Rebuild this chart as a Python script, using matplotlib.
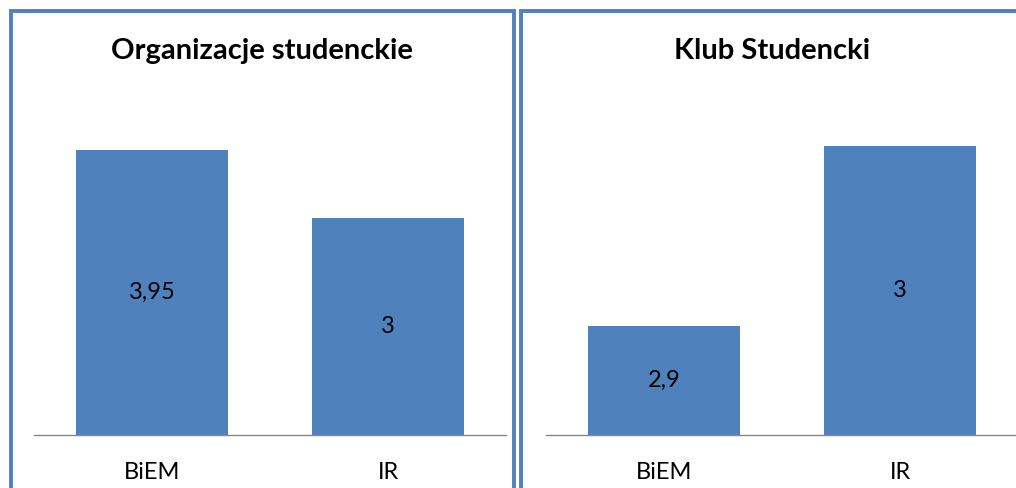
import matplotlib
matplotlib.use("Agg")
import matplotlib.pyplot as plt
from matplotlib.patches import Rectangle

categories = ["BiEM", "IR"]
titles = ["Organizacje studenckie", "Klub Studencki"]
values_org = [3.95, 3.0]
values_klub = [2.9, 3.0]
labels_org = ["3,95", "3"]
labels_klub = ["2,9", "3"]
ylims = [(0, 5.0), (2.84, 3.04)]

W, H = 1016, 488
BLUE = "#4F81BD"
FONT = "Lato"

fig = plt.figure(figsize=(W / 100, H / 100), dpi=100)


def fx(px):
    return px / W


def fy(py):
    return 1 - py / H


# panel borders
for (x0, x1) in [(11, 514), (521, 1040)]:
    r = Rectangle((fx(x0), fy(520)), fx(x1) - fx(x0), fy(11) - fy(520),
                  transform=fig.transFigure, fill=False, edgecolor=BLUE,
                  linewidth=2.8, clip_on=False)
    fig.add_artist(r)

panels = [
    (34, titles[0], values_org, labels_org, ylims[0], 262),
    (546, titles[1], values_klub, labels_klub, ylims[1], 772),
]

for (left_px, title, vals, labs, yl, tcx) in panels:
    ax = fig.add_axes([fx(left_px), fy(434.5), fx(472), (434.5 - 74) / H])
    x = list(range(len(categories)))
    bars = ax.bar(x, vals, width=0.644, color=BLUE, bottom=0)
    ax.set_xlim(-0.5, 1.5)
    ax.set_ylim(*yl)
    for s in ["top", "right", "left"]:
        ax.spines[s].set_visible(False)
    ax.spines["bottom"].set_color("#868686")
    ax.spines["bottom"].set_linewidth(1.0)
    ax.set_yticks([])
    ax.set_xticks(x)
    ax.set_xticklabels(categories, fontsize=17, family=FONT)
    ax.tick_params(axis="x", length=0, pad=20)
    ax.patch.set_alpha(0)
    for b, v, lab in zip(bars, vals, labs):
        ymid = (yl[0] + v) / 2
        ax.text(b.get_x() + b.get_width() / 2, ymid, lab, ha="center",
                va="center", fontsize=17, family=FONT, color="black")
    fig.text(fx(tcx), fy(51), title, ha="center", va="center",
             fontsize=21, fontweight="bold", family=FONT, color="black")

fig.savefig("out.png", dpi=100)
